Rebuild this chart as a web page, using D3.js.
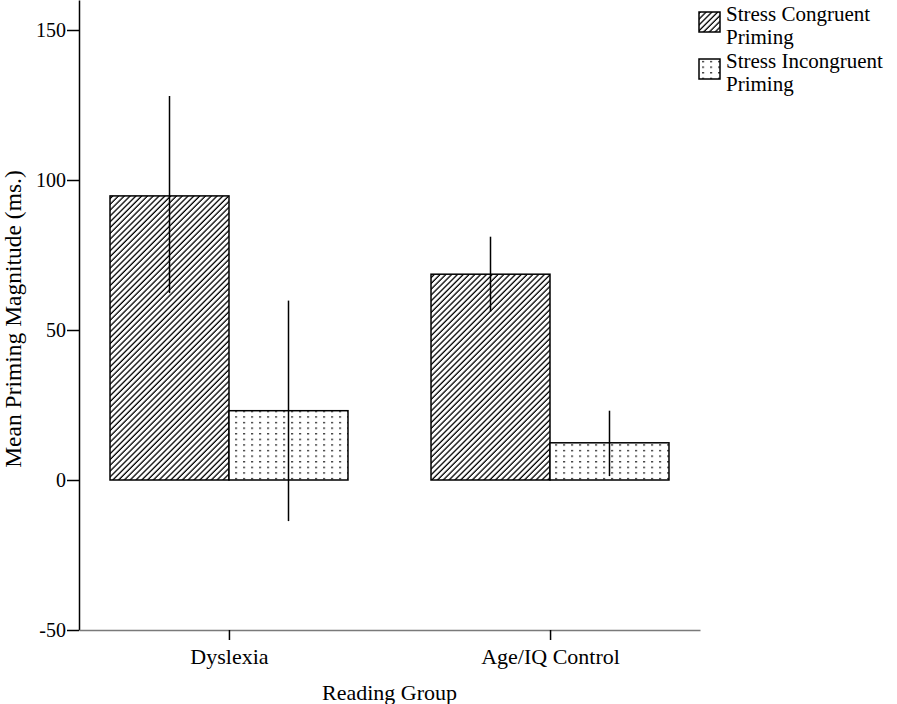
<!DOCTYPE html>
<html lang="en">
<head>
<meta charset="UTF-8">
<title>Priming Magnitude</title>
<script src="https://d3js.org/d3.v7.min.js"></script>
<style>
  body { margin: 0; background: #fff; }
  svg text { font-family: "Liberation Serif", "Times New Roman", serif; fill: #000; }
  .title { font-size: 22px; }
  .legend text { font-size: 21px; }
</style>
</head>
<body>
<div id="chart"></div>
<script>
  // Data
  const groups = ["Dyslexia", "Age/IQ Control"];
  const series = ["Stress Congruent Priming", "Stress Incongruent Priming"];
  const congruentMean = [94.7, 68.6];
  const congruentLow = [62.3, 56.1];
  const congruentHigh = [128, 81.1];
  const incongruentMean = [23.1, 12.4];
  const incongruentLow = [-13.7, 1.3];
  const incongruentHigh = [59.8, 23.1];
  const yTicks = [-50, 0, 50, 100, 150];

  const rows = [];
  groups.forEach((g, i) => {
    rows.push({ group: g, series: series[0], value: congruentMean[i], lo: congruentLow[i], hi: congruentHigh[i] });
    rows.push({ group: g, series: series[1], value: incongruentMean[i], lo: incongruentLow[i], hi: incongruentHigh[i] });
  });

  const width = 897, height = 704;
  const plot = { left: 79, right: 700, bottom: 630, top: 0 };

  const svg = d3.select('#chart').append('svg')
    .attr('width', width)
    .attr('height', height);

  // fill patterns
  const defs = svg.append('defs');
  const hatch = defs.append('pattern')
    .attr('id', 'hatch')
    .attr('patternUnits', 'userSpaceOnUse')
    .attr('width', 4.1).attr('height', 10)
    .attr('patternTransform', 'rotate(45)');
  hatch.append('rect').attr('width', 4.1).attr('height', 10).attr('fill', '#fff');
  hatch.append('line')
    .attr('x1', 1).attr('x2', 1).attr('y1', 0).attr('y2', 10)
    .attr('stroke', '#000').attr('stroke-width', 1.3);

  const dots = defs.append('pattern')
    .attr('id', 'dots')
    .attr('patternUnits', 'userSpaceOnUse')
    .attr('width', 8).attr('height', 5.6);
  dots.append('rect').attr('width', 8).attr('height', 5.6).attr('fill', '#fff');
  dots.append('rect').attr('x', 3).attr('y', 2).attr('width', 2.2).attr('height', 1.2).attr('fill', '#222');

  const fills = d3.scaleOrdinal().domain(series).range(['url(#hatch)', 'url(#dots)']);

  // scales
  const x0 = d3.scaleBand().domain(groups).range([plot.left, plot.right])
    .paddingInner(0.2586).paddingOuter(0.0966);
  const x1 = d3.scaleBand().domain(series).range([0, x0.bandwidth()]);
  const y = d3.scaleLinear().domain([-50, 160]).range([plot.bottom, plot.top]);

  // bars
  svg.append('g').selectAll('rect')
    .data(rows)
    .join('rect')
    .attr('x', d => x0(d.group) + x1(d.series))
    .attr('y', d => y(Math.max(0, d.value)))
    .attr('width', x1.bandwidth())
    .attr('height', d => Math.abs(y(d.value) - y(0)))
    .attr('fill', d => fills(d.series))
    .attr('stroke', '#000')
    .attr('stroke-width', 1.5);

  // error bars (no caps)
  svg.append('g').selectAll('line')
    .data(rows)
    .join('line')
    .attr('x1', d => x0(d.group) + x1(d.series) + x1.bandwidth() / 2)
    .attr('x2', d => x0(d.group) + x1(d.series) + x1.bandwidth() / 2)
    .attr('y1', d => y(d.lo))
    .attr('y2', d => y(d.hi))
    .attr('stroke', '#000')
    .attr('stroke-width', 1.5);

  // y axis
  const yAxis = svg.append('g')
    .attr('transform', `translate(${plot.left},0)`)
    .call(d3.axisLeft(y).tickValues(yTicks).tickFormat(d => String(d))
      .tickSize(12).tickPadding(1).tickSizeOuter(0));
  yAxis.select('.domain').attr('stroke', '#000').attr('stroke-width', 1.5);
  yAxis.selectAll('.tick line').attr('stroke-width', 1.5);
  yAxis.selectAll('.tick text')
    .attr('font-size', 20)
    .attr('font-family', '"Liberation Serif", serif')
    .attr('dy', '0.34em');

  // x axis
  const xCenter = d3.scalePoint().domain(groups).range([plot.left, plot.right]).padding(0.467);
  const xAxis = svg.append('g')
    .attr('transform', `translate(0,${plot.bottom})`)
    .call(d3.axisBottom(xCenter).tickSize(10).tickPadding(8).tickSizeOuter(0));
  xAxis.select('.domain').attr('stroke', '#7a7a7a').attr('stroke-width', 1.6);
  xAxis.selectAll('.tick line').attr('stroke-width', 1.5);
  xAxis.selectAll('.tick text')
    .attr('font-size', 22)
    .attr('font-family', '"Liberation Serif", serif');

  // axis titles
  svg.append('text')
    .attr('class', 'title')
    .attr('x', (plot.left + plot.right) / 2)
    .attr('y', 700)
    .attr('text-anchor', 'middle')
    .text('Reading Group');

  svg.append('text')
    .attr('class', 'title')
    .style('font-size', '23.5px')
    .attr('transform', 'translate(21,319) rotate(-90)')
    .attr('text-anchor', 'middle')
    .text('Mean Priming Magnitude (ms.)');

  // legend
  const legend = svg.append('g').attr('class', 'legend');
  series.forEach((s, i) => {
    const g = legend.append('g').attr('transform', `translate(699,${12 + i * 47})`);
    g.append('rect')
      .attr('width', 21).attr('height', 20)
      .attr('fill', fills(s))
      .attr('stroke', '#000').attr('stroke-width', 1.5);
    const cut = s.lastIndexOf(' ');
    const t = g.append('text').attr('x', 27).attr('y', 9);
    t.append('tspan').attr('x', 27).text(s.slice(0, cut));
    t.append('tspan').attr('x', 27).attr('dy', 23).text(s.slice(cut + 1));
  });
</script>
</body>
</html>
